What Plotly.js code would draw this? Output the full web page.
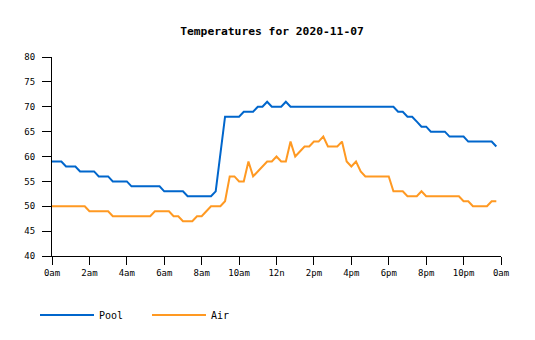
<!DOCTYPE html>
<html>
<head>
<meta charset="utf-8">
<script src="https://cdn.plot.ly/plotly-3.0.1.min.js"></script>
<style>
  html, body { margin: 0; padding: 0; background: #fff; }
  #chart { width: 535px; height: 340px; }
</style>
</head>
<body>
<div id="chart"></div>
<script>
// Temperatures sampled every 15 minutes, 00:00 .. 23:45
const poolTemps = [
  59, 59, 59, 58, 58, 58, 57, 57, 57, 57, 56, 56, 56, 55, 55, 55,
  55, 54, 54, 54, 54, 54, 54, 54, 53, 53, 53, 53, 53, 52, 52, 52,
  52, 52, 52, 53, 60.5, 68, 68, 68, 68, 69, 69, 69, 70, 70, 71, 70,
  70, 70, 71, 70, 70, 70, 70, 70, 70, 70, 70, 70, 70, 70, 70, 70,
  70, 70, 70, 70, 70, 70, 70, 70, 70, 70, 69, 69, 68, 68, 67, 66,
  66, 65, 65, 65, 65, 64, 64, 64, 64, 63, 63, 63, 63, 63, 63, 62
];
const airTemps = [
  50, 50, 50, 50, 50, 50, 50, 50, 49, 49, 49, 49, 49, 48, 48, 48,
  48, 48, 48, 48, 48, 48, 49, 49, 49, 49, 48, 48, 47, 47, 47, 48,
  48, 49, 50, 50, 50, 51, 56, 56, 55, 55, 59, 56, 57, 58, 59, 59,
  60, 59, 59, 63, 60, 61, 62, 62, 63, 63, 64, 62, 62, 62, 63, 59,
  58, 59, 57, 56, 56, 56, 56, 56, 56, 53, 53, 53, 52, 52, 52, 53,
  52, 52, 52, 52, 52, 52, 52, 52, 51, 51, 50, 50, 50, 50, 51, 51
];
const seriesNames = ['Pool', 'Air'];
const seriesColors = ['#0066cc', '#ff9922'];
const tickHours = [0, 2, 4, 6, 8, 10, 12, 14, 16, 18, 20, 22, 24];
const tickLabels = ['0am', '2am', '4am', '6am', '8am', '10am', '12n', '2pm', '4pm', '6pm', '8pm', '10pm', '0am'];
const yTicks = [40, 45, 50, 55, 60, 65, 70, 75, 80];

// sample times in hours (15-minute grid)
const hours = poolTemps.map((_, i) => i / 4);

const mono = 'DejaVu Sans Mono, Liberation Mono, monospace';

const traces = [poolTemps, airTemps].map((vals, k) => ({
  type: 'scatter',
  mode: 'lines',
  x: hours,
  y: vals,
  name: seriesNames[k],
  line: { color: seriesColors[k], width: 2 },
  hoverinfo: 'skip'
}));

const layout = {
  width: 535,
  height: 340,
  margin: { l: 52, r: 34, t: 56.5, b: 83.5, pad: 0 },
  paper_bgcolor: '#ffffff',
  plot_bgcolor: '#ffffff',
  font: { family: mono, size: 9, color: '#000000' },
  title: {
    text: 'Temperatures for 2020-11-07',
    font: { family: mono, size: 11.3, color: '#000000', weight: 'bold' },
    x: 272 / 535,
    xanchor: 'center',
    xref: 'container',
    y: 1 - 31 / 340,
    yanchor: 'middle',
    yref: 'container'
  },
  xaxis: {
    range: [0, 24],
    tickmode: 'array',
    tickvals: tickHours,
    ticktext: tickLabels,
    ticks: 'outside',
    ticklen: 8,
    tickwidth: 1,
    tickcolor: '#000',
    showline: true,
    linecolor: '#000',
    linewidth: 1,
    showgrid: false,
    zeroline: false,
    fixedrange: true,
    tickfont: { family: mono, size: 9, color: '#000' }
  },
  yaxis: {
    range: [40, 80],
    tickmode: 'array',
    tickvals: yTicks,
    ticks: 'outside',
    ticklen: 9,
    tickwidth: 1,
    tickcolor: '#000',
    ticklabelstandoff: 5,
    showline: true,
    linecolor: '#000',
    linewidth: 1,
    showgrid: false,
    zeroline: false,
    fixedrange: true,
    tickfont: { family: mono, size: 9, color: '#000' }
  },
  showlegend: true,
  legend: {
    orientation: 'h',
    xref: 'container',
    yref: 'container',
    x: 35 / 535,
    xanchor: 'left',
    y: 1 - 315 / 340,
    yanchor: 'middle',
    entrywidth: 43,
    entrywidthmode: 'pixels',
    itemwidth: 54,
    font: { family: mono, size: 10, color: '#000' },
    bgcolor: 'rgba(0,0,0,0)'
  }
};

Plotly.newPlot('chart', traces, layout, { displayModeBar: false, staticPlot: true });
</script>
</body>
</html>
